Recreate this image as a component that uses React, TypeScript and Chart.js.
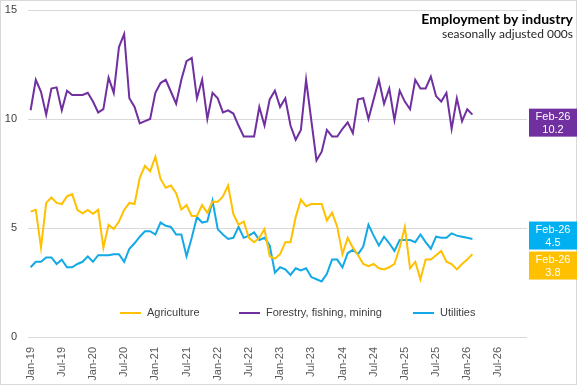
import React, { useEffect, useRef } from "react";
import { Chart, registerables } from "chart.js";
Chart.register(...registerables);

const MONTHS = ["Jan", "Feb", "Mar", "Apr", "May", "Jun", "Jul", "Aug", "Sep", "Oct", "Nov", "Dec"];
const YEARS = ["19", "20", "21", "22", "23", "24", "25", "26"];
const categories = YEARS.flatMap((y) => MONTHS.map((m) => `${m}-${y}`));

const agriculture = [
  5.75, 5.83, 4.1, 6.15, 6.4, 6.15, 6.1, 6.45, 6.55, 5.83, 5.67, 5.83,
  5.65, 5.83, 4.1, 5.15, 4.95, 5.3, 5.83, 6.15, 6.1, 7.3, 7.85, 7.6,
  8.27, 7.25, 6.85, 6.95, 6.6, 5.85, 6.05, 5.55, 5.55, 6.05, 5.7, 6.2,
  6.2, 6.45, 6.95, 5.65, 5.15, 5.3, 4.55, 4.35, 4.55, 4.95, 3.7, 3.6,
  3.8, 4.35, 4.35, 5.5, 6.3, 6.0, 6.1, 6.1, 6.1, 5.35, 5.7, 5.05,
  3.8, 4.55, 4.1, 3.75, 3.35, 3.25, 3.35, 3.15, 3.1, 3.2, 3.35, 4.1,
  5.05, 3.15, 3.45, 2.65, 3.55, 3.55, 3.75, 3.95, 3.45, 3.35, 3.1, 3.35,
  3.55, 3.8,
];

const forestry = [
  10.4, 11.8, 11.25, 10.2, 11.4, 11.45, 10.4, 11.3, 11.1, 11.1, 11.1, 11.2,
  10.8, 10.3, 10.45, 11.9, 11.2, 13.3, 13.9, 10.95, 10.55, 9.8, 9.9, 10.0,
  11.2, 11.65, 11.8, 11.25, 10.7, 11.8, 12.65, 12.8, 10.95, 11.8, 10.0, 11.2,
  10.95, 10.3, 10.4, 10.25, 9.7, 9.2, 9.2, 9.2, 10.55, 9.7, 10.9, 11.3,
  10.55, 10.95, 9.7, 9.05, 9.5, 11.8, 9.95, 8.1, 8.5, 9.5, 9.2, 9.2,
  9.55, 9.85, 9.35, 10.9, 10.95, 10.0, 10.9, 11.8, 10.7, 11.4, 9.95, 11.3,
  10.8, 10.45, 11.8, 11.4, 11.4, 11.95, 11.05, 10.8, 11.2, 9.55, 10.95, 9.9,
  10.45, 10.2,
];

const utilities = [
  3.2, 3.45, 3.45, 3.65, 3.65, 3.35, 3.55, 3.2, 3.2, 3.35, 3.45, 3.7,
  3.45, 3.75, 3.75, 3.75, 3.8, 3.8, 3.45, 4.05, 4.3, 4.6, 4.85, 4.85,
  4.7, 5.25, 5.1, 5.05, 4.7, 4.7, 3.7, 4.55, 5.5, 5.25, 5.3, 6.25,
  4.95, 4.7, 4.5, 4.55, 5.05, 4.55, 4.65, 4.8, 4.45, 4.55, 4.2, 2.95,
  3.2, 3.1, 2.85, 3.15, 3.05, 3.15, 2.75, 2.65, 2.55, 2.9, 3.55, 3.55,
  3.2, 3.85, 4.0, 3.8, 4.15, 5.15, 4.65, 4.2, 4.6, 4.3, 3.95, 4.45,
  4.45, 4.45, 4.35, 4.7, 4.35, 4.05, 4.6, 4.55, 4.55, 4.75, 4.65, 4.6,
  4.55, 4.5,
];

const seriesNames = ["Agriculture", "Forestry, fishing, mining", "Utilities"];
const seriesColors = ["#FFC000", "#7030A0", "#12A9E6"];
const boxColors = ["#FFC000", "#7030A0", "#00B0F0"];
const titleText = "Employment by industry";
const subtitleText = "seasonally adjusted 000s";
const lastPeriod = "Feb-26";
const yMin = 0;
const yMax = 15;
const yStep = 5;

const FONT = "'Liberation Sans', Arial, sans-serif";
const labelNudge = [4, 8, 4];

const overlayPlugin = {
  id: "overlay",
  afterDraw(chart: any) {
    const ctx = chart.ctx as CanvasRenderingContext2D;
    const area = chart.chartArea;
    const yScale = chart.scales.y;
    ctx.save();

    // outer border
    ctx.strokeStyle = "#d9d9d9";
    ctx.lineWidth = 1;
    ctx.strokeRect(0.5, 0.5, chart.width - 1, chart.height - 1);

    // title
    ctx.fillStyle = "#000000";
    ctx.textAlign = "right";
    ctx.textBaseline = "middle";
    ctx.font = "bold 14px Lato, 'Open Sans', sans-serif";
    ctx.fillText(titleText, chart.width - 4, 19);
    ctx.fillStyle = "#262626";
    ctx.font = "12px Lato, 'Open Sans', sans-serif";
    ctx.fillText(subtitleText, chart.width - 4, 34);

    // legend
    const legendY = area.bottom - 24;
    const legendX = [120, 239, 413];
    ctx.font = `11px ${FONT}`;
    ctx.textAlign = "left";
    chart.data.datasets.forEach((ds: any, i: number) => {
      ctx.strokeStyle = ds.borderColor;
      ctx.lineWidth = 2;
      ctx.beginPath();
      ctx.moveTo(legendX[i], legendY);
      ctx.lineTo(legendX[i] + 21, legendY);
      ctx.stroke();
      ctx.fillStyle = "#404040";
      ctx.fillText(ds.label, legendX[i] + 27, legendY);
    });

    // end labels
    const boxH = 28;
    const gap = 2;
    const items = chart.data.datasets.map((ds: any, i: number) => {
      const v = ds.data[ds.data.length - 1];
      return { i, v, c: yScale.getPixelForValue(v) + labelNudge[i] };
    });
    items.sort((a: any, b: any) => a.c - b.c);
    for (let iter = 0; iter < 5; iter++) {
      for (let k = 1; k < items.length; k++) {
        const a = items[k - 1];
        const b = items[k];
        const need = boxH + gap - (b.c - a.c);
        if (need > 0) {
          a.c -= need / 2;
          b.c += need / 2;
        }
      }
    }
    const bx = area.right + 2;
    const bw = chart.width - bx;
    items.forEach((it: any) => {
      ctx.fillStyle = boxColors[it.i];
      ctx.fillRect(bx, it.c - boxH / 2, bw, boxH);
      ctx.fillStyle = "#ffffff";
      ctx.textAlign = "center";
      ctx.font = `11px ${FONT}`;
      ctx.fillText(lastPeriod, bx + bw / 2, it.c - 6);
      ctx.fillText(it.v.toFixed(1), bx + bw / 2, it.c + 7);
    });

    ctx.restore();
  },
};

export default function App() {
  const ref = useRef<HTMLCanvasElement>(null);
  useEffect(() => {
    if (!ref.current) return;
    const series = [agriculture, forestry, utilities];
    const chart = new Chart(ref.current, {
      type: "line",
      data: {
        labels: categories,
        datasets: series.map((d, i) => ({
          label: seriesNames[i],
          data: d,
          borderColor: seriesColors[i],
          backgroundColor: seriesColors[i],
          borderWidth: 2,
          pointRadius: 0,
          tension: 0,
          fill: false,
        })),
      },
      options: {
        animation: false,
        responsive: false,
        maintainAspectRatio: false,
        layout: { padding: { top: 10, right: 50, left: 0, bottom: 0 } },
        plugins: { legend: { display: false }, tooltip: { enabled: false } },
        scales: {
          x: {
            type: "category",
            offset: true,
            grid: { display: false, drawTicks: false },
            border: { display: false },
            ticks: {
              autoSkip: false,
              maxRotation: 90,
              minRotation: 90,
              padding: 10,
              color: "#595959",
              font: { family: FONT, size: 11 },
              callback: (_v: any, i: number) => (i % 6 === 0 ? categories[i] : ""),
            },
            afterFit: (s: any) => {
              s.height = 48;
              s.paddingTop = 0;
              s.paddingBottom = 0;
            },
          },
          y: {
            min: yMin,
            max: yMax,
            grid: { color: "#d9d9d9", drawTicks: false, lineWidth: 1 },
            border: { display: false },
            ticks: {
              stepSize: yStep,
              padding: 11,
              color: "#404040",
              font: { family: FONT, size: 11 },
            },
            afterFit: (s: any) => {
              s.width = 28;
              s.paddingTop = 0;
              s.paddingBottom = 0;
            },
          },
        },
      },
      plugins: [overlayPlugin],
    });
    return () => chart.destroy();
  }, []);
  return (
    <div style={{ position: "absolute", left: 0, top: 0, width: 577, height: 385, background: "#fff" }}>
      <canvas ref={ref} width={577} height={385} style={{ display: "block" }} />
    </div>
  );
}
